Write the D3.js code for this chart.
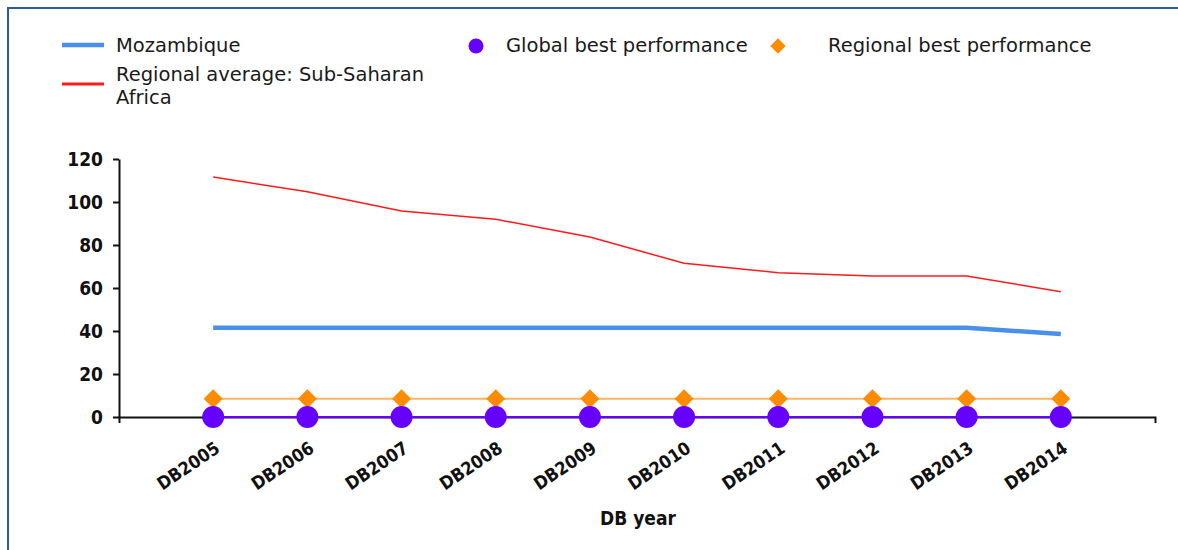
<!DOCTYPE html>
<html>
<head>
<meta charset="utf-8">
<script src="https://cdn.jsdelivr.net/npm/d3@7"></script>
<style>
  body { margin: 0; background: #fff; }
  svg { display: block; }
</style>
</head>
<body>
<svg id="chart" width="1178" height="550"></svg>
<script>
const years = ["DB2005", "DB2006", "DB2007", "DB2008", "DB2009", "DB2010", "DB2011", "DB2012", "DB2013", "DB2014"];
const mozambique = [41.5, 41.5, 41.5, 41.5, 41.5, 41.5, 41.5, 41.5, 41.5, 38.6];
const regionalAvg = [111.6, 104.8, 95.8, 92, 83.7, 71.5, 67.1, 65.6, 65.6, 58.3];
const globalBest = [0, 0, 0, 0, 0, 0, 0, 0, 0, 0];
const regionalBest = [8.5, 8.5, 8.5, 8.5, 8.5, 8.5, 8.5, 8.5, 8.5, 8.5];
const yTicks = [0, 20, 40, 60, 80, 100, 120];

const svg = d3.select("#chart");

// frame
svg.append("path")
    .attr("d", "M8,550 V8 H1178")
    .style("fill", "none")
    .style("stroke", "#2a5c9c")
    .style("stroke-width", 2);

const x = d3.scalePoint().domain(years).range([119, 1155]).padding(1);
const y = d3.scaleLinear().domain([0, 120]).range([417, 159]);

const tickFont = "'DejaVu Sans Condensed', 'DejaVu Sans', sans-serif";

// y axis
const yAxis = svg.append("g")
    .attr("transform", "translate(119,0)")
    .call(d3.axisLeft(y).tickValues(yTicks).tickSize(6).tickSizeOuter(0).tickPadding(10));
yAxis.selectAll("text")
    .style("font-family", tickFont)
    .style("font-weight", "bold")
    .style("font-size", "19px")
    .style("fill", "#111");
yAxis.selectAll("line, path").style("stroke", "#111").style("stroke-width", 2);

// x axis
const xAxis = svg.append("g")
    .attr("transform", "translate(0,417)")
    .call(d3.axisBottom(x).tickSize(6).tickSizeOuter(6));
xAxis.selectAll("line, path").style("stroke", "#111").style("stroke-width", 2);
xAxis.selectAll("text")
    .style("font-family", tickFont)
    .style("font-weight", "bold")
    .style("font-size", "18px")
    .style("fill", "#111")
    .attr("text-anchor", "end")
    .attr("y", 0)
    .attr("dy", "0.35em")
    .attr("transform", "translate(4,29) rotate(-34)");

svg.append("text")
    .attr("x", 638)
    .attr("y", 525)
    .attr("text-anchor", "middle")
    .style("font-family", tickFont)
    .style("font-weight", "bold")
    .style("font-size", "19px")
    .style("fill", "#111")
    .text("DB year");

const line = d3.line().x((d, i) => x(years[i])).y(d => y(d));

// series
svg.append("path").datum(regionalBest)
    .attr("d", line)
    .style("fill", "none").style("stroke", "#ffb566").style("stroke-width", 2);

svg.append("path").datum(globalBest)
    .attr("d", line)
    .style("fill", "none").style("stroke", "#6a00ff").style("stroke-width", 2);

svg.append("path").datum(regionalAvg)
    .attr("d", line)
    .style("fill", "none").style("stroke", "#ff1a1a").style("stroke-width", 1.5);

svg.append("path").datum(mozambique)
    .attr("d", line)
    .style("fill", "none").style("stroke", "#4a8fea").style("stroke-width", 4.5);

svg.selectAll(".diamond")
    .data(regionalBest)
    .enter().append("path")
    .attr("class", "diamond")
    .attr("d", d3.symbol().type(d3.symbolDiamond2).size(230))
    .attr("transform", (d, i) => `translate(${x(years[i])},${y(d)})`)
    .style("fill", "#ff8c00");

svg.selectAll(".dot")
    .data(globalBest)
    .enter().append("circle")
    .attr("class", "dot")
    .attr("cx", (d, i) => x(years[i]))
    .attr("cy", d => y(d))
    .attr("r", 11)
    .style("fill", "#6600ff");

// legend
const legFont = "'DejaVu Sans', sans-serif";
const leg = svg.append("g")
    .style("font-family", legFont)
    .style("font-size", "19.5px")
    .style("fill", "#1a1a1a");

leg.append("line").attr("x1", 62).attr("x2", 104).attr("y1", 45).attr("y2", 45)
    .style("stroke", "#4a8fea").style("stroke-width", 4.5);
leg.append("text").attr("x", 116).attr("y", 52).text("Mozambique");

leg.append("line").attr("x1", 62).attr("x2", 104).attr("y1", 84).attr("y2", 84)
    .style("stroke", "#ff1a1a").style("stroke-width", 3);
leg.append("text").attr("x", 116).attr("y", 81).text("Regional average: Sub-Saharan");
leg.append("text").attr("x", 116).attr("y", 104).text("Africa");

leg.append("circle").attr("cx", 476).attr("cy", 46).attr("r", 7.5).style("fill", "#6600ff");
leg.append("text").attr("x", 506).attr("y", 52).text("Global best performance");

leg.append("path")
    .attr("d", d3.symbol().type(d3.symbolDiamond2).size(150))
    .attr("transform", "translate(778,46)")
    .style("fill", "#ff8c00");
leg.append("text").attr("x", 828).attr("y", 52).text("Regional best performance");
</script>
</body>
</html>
